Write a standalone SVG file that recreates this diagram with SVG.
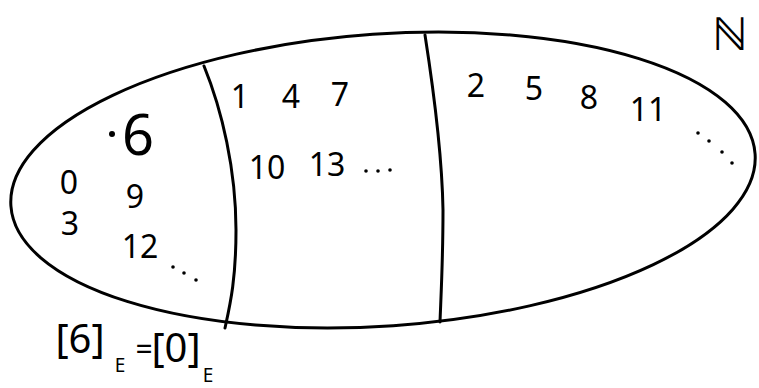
<svg xmlns="http://www.w3.org/2000/svg" width="759" height="388" viewBox="0 0 759 388">
<style>
.ln{fill:none;stroke:#000;stroke-width:3;stroke-linecap:round}
.t{font-family:"Noto Sans","Liberation Sans",sans-serif;fill:#000;font-size:32px;text-anchor:middle}
.d{fill:#000}
</style>
<rect width="759" height="388" fill="#fff"/>
<g id="set">
<ellipse class="ln" cx="383" cy="180" rx="373" ry="146" transform="rotate(-4 383 180)"/>
</g>
<g id="dividers">
<path class="ln" d="M204 66 C222 110 236 170 236 230 C236 280 230 305 225 328"/>
<path class="ln" d="M425 35 C432 80 442 150 443 210 C443 260 441 295 440 322"/>
</g>
<g id="class0">
<circle class="d" cx="112" cy="134" r="3"/>
<text class="t" x="138" y="155" style="font-size:56px">6</text>
<text class="t" x="69" y="194">0</text>
<text class="t" x="135" y="208">9</text>
<text class="t" x="70" y="235">3</text>
<text class="t" x="140" y="258">12</text>
<circle class="d" cx="173" cy="267" r="1.8"/><circle class="d" cx="184" cy="273" r="1.8"/><circle class="d" cx="196" cy="280" r="1.8"/>
</g>
<g id="class1">
<text class="t" x="240" y="108">1</text>
<text class="t" x="291" y="108">4</text>
<text class="t" x="340" y="106">7</text>
<text class="t" x="267" y="179">10</text>
<text class="t" x="327" y="176">13</text>
<circle class="d" cx="366" cy="171" r="1.8"/><circle class="d" cx="378" cy="171" r="1.8"/><circle class="d" cx="390" cy="170" r="1.8"/>
</g>
<g id="class2">
<text class="t" x="476" y="97">2</text>
<text class="t" x="534" y="100">5</text>
<text class="t" x="589" y="109">8</text>
<text class="t" x="648" y="121">11</text>
<circle class="d" cx="698" cy="133" r="1.8"/><circle class="d" cx="709" cy="141" r="1.8"/><circle class="d" cx="722" cy="152" r="1.8"/><circle class="d" cx="732" cy="163" r="1.8"/>
</g>
<g id="naturals">
<text class="t" x="730" y="50" style="font-size:46px">ℕ</text>
</g>
<g id="label">
<text class="t" x="80" y="353" style="font-size:40px">[6]</text>
<text class="t" x="120" y="372" style="font-size:19px">E</text>
<text class="t" x="144" y="360" style="font-size:30px">=</text>
<text class="t" x="176" y="362" style="font-size:40px">[0]</text>
<text class="t" x="208" y="382" style="font-size:19px">E</text>
</g>
</svg>
